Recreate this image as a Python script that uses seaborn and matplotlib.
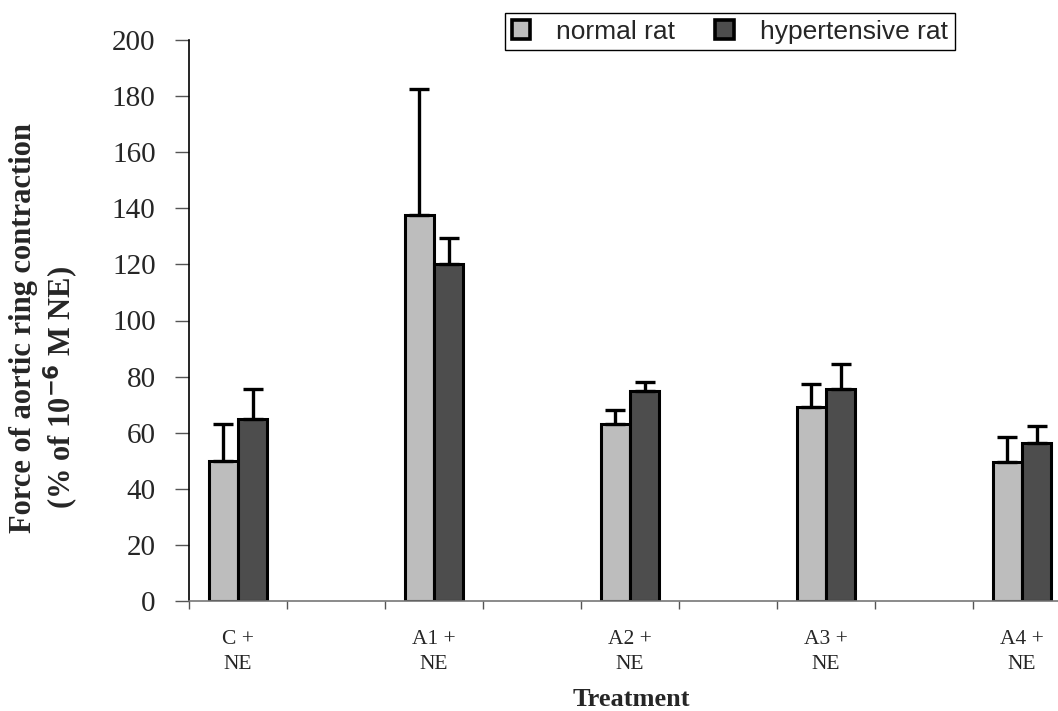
import matplotlib
matplotlib.use("Agg")
import matplotlib.pyplot as plt
import seaborn as sns
import pandas as pd
import numpy as np
from matplotlib.patches import Patch

# ---- data ----
categories = ["C + NE", "gap1", "A1 + NE", "gap2", "A2 + NE", "gap3", "A3 + NE", "gap4", "A4 + NE"]
tick_labels = ["C +\nNE", "", "A1 +\nNE", "", "A2 +\nNE", "", "A3 +\nNE", "", "A4 +\nNE"]
series = ["normal rat", "hypertensive rat"]
normal_vals = [50, np.nan, 137.5, np.nan, 63, np.nan, 69, np.nan, 49.5]
normal_err = [13, np.nan, 45, np.nan, 5, np.nan, 8.5, np.nan, 9]
hyper_vals = [65, np.nan, 120, np.nan, 75, np.nan, 75.5, np.nan, 56.5]
hyper_err = [10.5, np.nan, 9.5, np.nan, 3, np.nan, 9, np.nan, 6]
yticks = [0, 20, 40, 60, 80, 100, 120, 140, 160, 180, 200]

colors = {"normal rat": "#bdbdbd", "hypertensive rat": "#4d4d4d"}

rows = []
for c, v, e in zip(categories, normal_vals, normal_err):
    rows.append({"cat": c, "grp": series[0], "val": v, "err": e})
for c, v, e in zip(categories, hyper_vals, hyper_err):
    rows.append({"cat": c, "grp": series[1], "val": v, "err": e})
df = pd.DataFrame(rows)

sns.set_style("white")
plt.rcParams["font.family"] = ["Liberation Serif", "DejaVu Serif"]

W, H = 1058, 711
fig = plt.figure(figsize=(W / 100, H / 100), dpi=100)
ax = fig.add_axes([189 / W, 1 - 601 / H, 882 / W, 561 / H])

sns.barplot(data=df, x="cat", y="val", hue="grp", order=categories, hue_order=series,
            palette=colors, width=0.6, edgecolor="black", linewidth=2.2,
            errorbar=None, ax=ax, legend=False, saturation=1)

# error bars (upper only) at bar centres
for grp, vals, errs in [(series[0], normal_vals, normal_err), (series[1], hyper_vals, hyper_err)]:
    offset = -0.15 if grp == series[0] else 0.15
    xs = np.arange(len(categories)) + offset
    v = np.array(vals, dtype=float)
    e = np.array(errs, dtype=float)
    m = ~np.isnan(v)
    ax.errorbar(xs[m], v[m], yerr=[np.zeros(m.sum()), e[m]], fmt="none",
                ecolor="black", elinewidth=2.4, capsize=7.5, capthick=2.4, zorder=1)

ax.set_xlim(-0.5, 8.5)
ax.set_ylim(0, 200)
ax.set_yticks(yticks)
ax.set_yticklabels([str(t) for t in yticks], fontsize=21)

# boundaries as major ticks, labels at centres as minor ticks
ax.set_xticks(np.arange(-0.5, 8.6, 1.0))
ax.set_xticklabels([])
ax.set_xticks(np.arange(len(categories)), minor=True)
ax.set_xticklabels(tick_labels, minor=True, fontsize=15.5, linespacing=1.45)
ax.tick_params(axis="x", which="major", direction="out", length=6, width=1, color="#555555", bottom=True)
ax.tick_params(axis="x", which="minor", length=0, pad=21)
ax.tick_params(axis="y", direction="out", length=10, width=1, color="#555555", pad=14, left=True)

for s in ["top", "right"]:
    ax.spines[s].set_visible(False)
ax.spines["left"].set_color("black")
ax.spines["left"].set_linewidth(1.2)
ax.spines["bottom"].set_color("#777777")
ax.spines["bottom"].set_linewidth(1.2)

ax.set_xlabel("")
ax.set_ylabel("")
fig.text(631 / W, 1 - 699 / H, "Treatment", fontsize=19, fontweight="bold",
         ha="center", va="center")
fig.text(24 / W, 1 - 328 / H, "Force of aortic ring contraction", rotation=90,
         fontsize=22, fontweight="bold", ha="center", va="center")
fig.text(61 / W, 1 - 388 / H, "(% of 10$^{\\mathbf{-6}}$ M NE)", rotation=90,
         fontsize=22, fontweight="bold", ha="center", va="center")

handles = [Patch(facecolor=colors[s], edgecolor="black", linewidth=2.6, label=s) for s in series]
leg = fig.legend(handles=handles, loc="upper left", bbox_to_anchor=(505 / W, 1 - 13 / H),
                 ncol=2, frameon=True, fancybox=False, edgecolor="black", framealpha=1,
                 prop={"family": "Liberation Sans", "size": 19}, handlelength=0.7,
                 handleheight=0.7, handletextpad=1.0, columnspacing=1.5,
                 borderpad=0.25, borderaxespad=0)
leg.get_frame().set_linewidth(1.0)

fig.savefig("out.png", dpi=100)
